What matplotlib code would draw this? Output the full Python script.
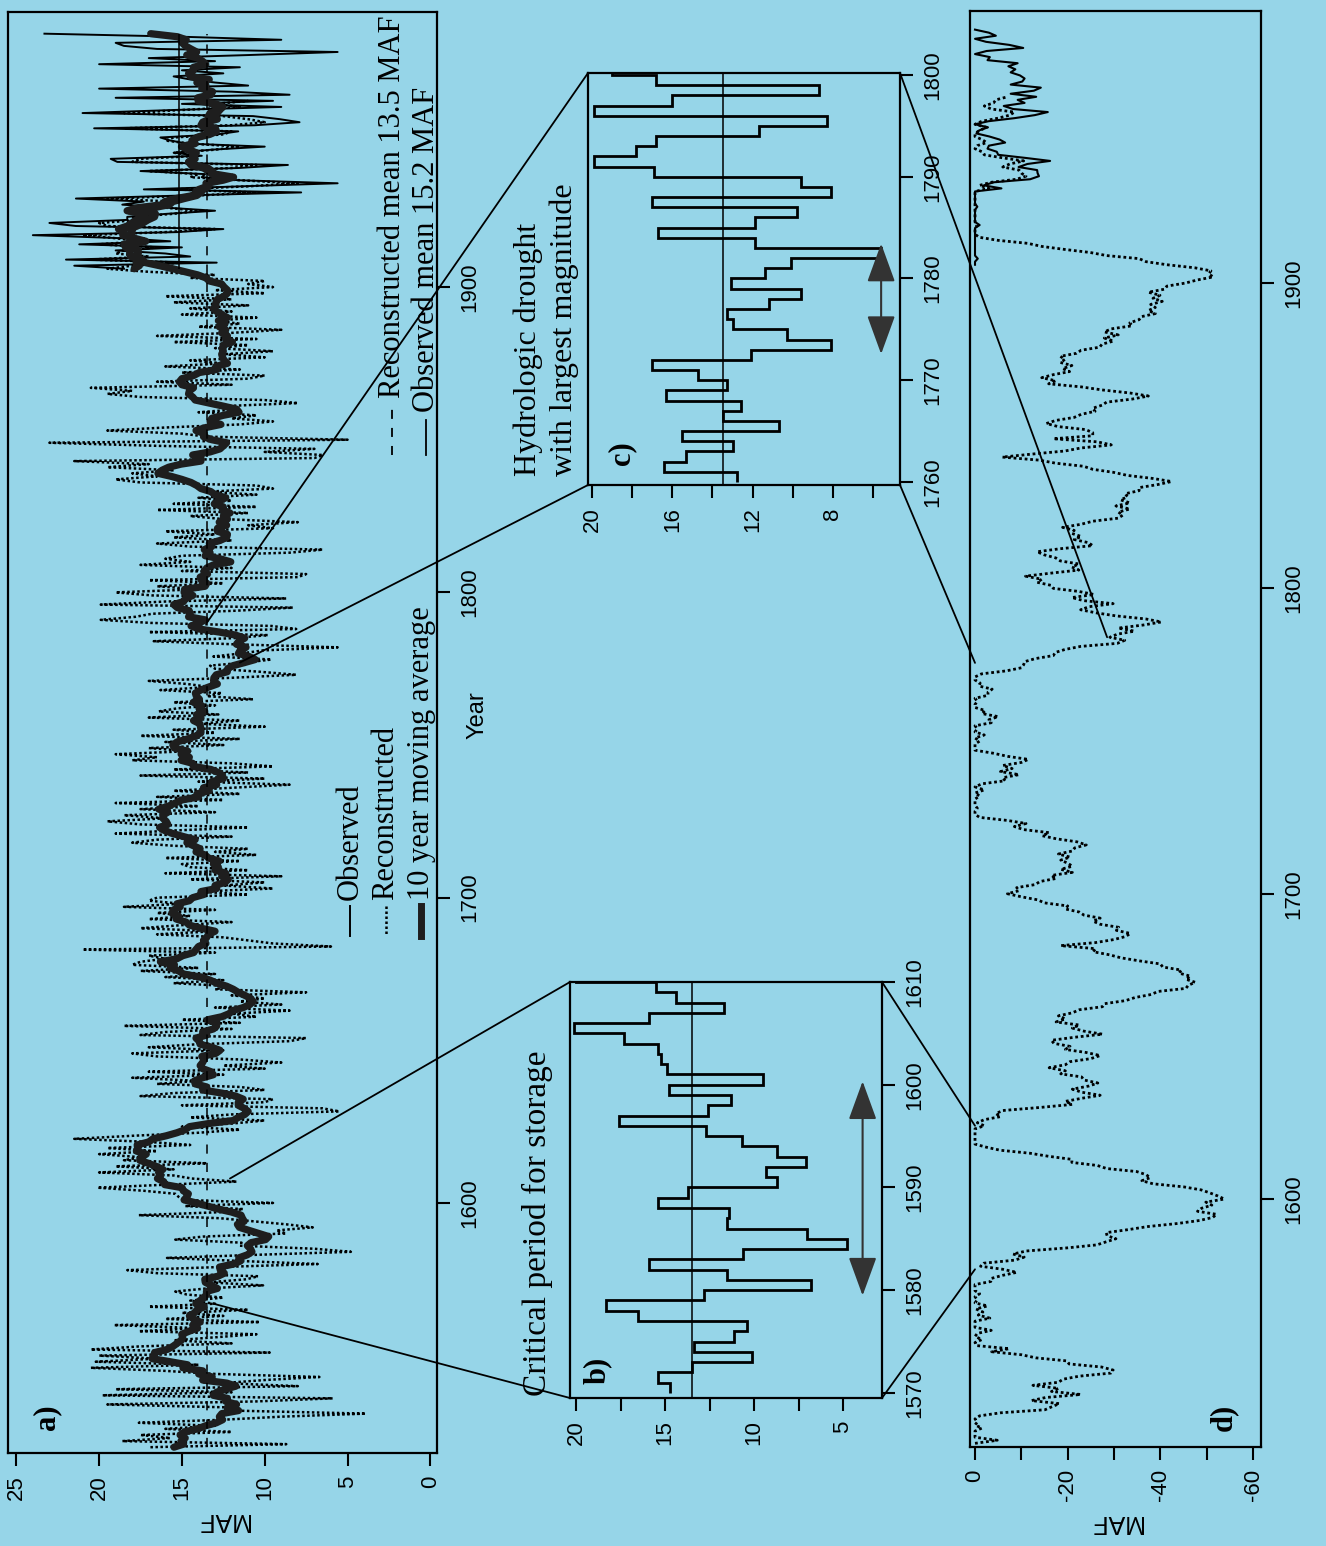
import numpy as np
import pandas as pd
import matplotlib
matplotlib.use("Agg")
import matplotlib.pyplot as plt
from matplotlib.patches import ConnectionPatch

BG = "#96d5e8"
SANS = "Liberation Sans"
SERIF = "Liberation Serif"

# ---- data (MAF) ----
rec_start = 1520
recon_flow = [
    16.9, 8.7, 18.6, 15.7, 17.5, 12.0, 16.0, 13.0, 17.6, 12.5,   # 1520s
    9.0, 3.9, 12.0, 11.9, 19.5, 10.5, 5.9, 19.8, 12.0, 19.0,
    8.0, 12.5, 10.0, 6.7, 13.0, 16.0, 20.5, 14.0, 20.2, 16.5,
    20.0, 9.7, 20.5, 17.6, 12.0, 15.5, 13.0, 10.5, 17.6, 14.0,
    19.1, 10.3, 16.0, 12.5, 15.0, 11.0, 17.0, 13.0, 14.5, 12.5,
    14.7, 15.4, 13.5, 10.1, 13.4, 11.1, 10.4, 16.5, 18.3, 12.8,  # 1570s
    6.8, 11.5, 15.9, 10.6, 4.8, 7.0, 11.5, 11.4, 15.4, 13.7,
    8.7, 9.3, 7.1, 8.7, 10.7, 12.7, 17.6, 12.6, 11.3, 14.8,
    9.5, 14.9, 15.2, 15.4, 17.3, 20.1, 15.9, 11.7, 14.4, 15.5,   # 1600s
    20.0, 15.5, 19.0, 13.5, 18.5, 17.5, 20.0, 16.5, 19.5, 14.5,
    17.0, 21.5, 18.0, 14.0, 11.5, 15.0, 12.0, 10.0, 14.5, 12.0,
    5.5, 6.5, 15.0, 10.0, 9.5, 17.5, 15.5, 10.0, 11.5, 16.5,
    14.0, 18.0, 12.5, 17.0, 10.0, 12.5, 9.0, 11.5, 16.5, 18.0,
    12.5, 17.0, 14.0, 8.5, 7.5, 17.5, 16.0, 12.0, 18.5, 11.5,
    15.0, 10.5, 12.0, 8.5, 13.0, 9.0, 11.5, 10.0, 12.0, 7.5,
    13.0, 12.0, 15.5, 12.5, 16.0, 13.0, 17.5, 14.0, 18.0, 17.5,
    16.0, 17.0, 13.0, 21.0, 6.0, 9.5, 11.0, 12.5, 16.5, 13.0,
    17.5, 15.0, 12.0, 17.0, 14.5, 16.5, 13.0, 18.5, 15.0, 17.0,
    16.5, 11.0, 14.0, 9.5, 12.5, 10.0, 14.5, 9.0, 16.0, 11.0,   # 1700s
    14.5, 15.0, 11.5, 16.0, 10.5, 13.0, 11.0, 15.5, 18.0, 16.5,
    12.0, 19.0, 15.5, 11.0, 17.5, 19.5, 16.0, 18.5, 13.0, 17.5,
    14.0, 19.0, 12.5, 16.5, 11.5, 15.5, 12.0, 8.5, 14.0, 10.0,
    17.5, 11.0, 15.5, 9.5, 12.0, 18.0, 16.5, 19.0, 14.5, 17.0,
    12.5, 16.0, 11.5, 17.5, 13.0, 15.5, 10.0, 14.0, 11.5, 17.0,
    12.8, 16.4, 15.3, 13.0, 15.5, 10.7, 13.5, 12.6, 16.3, 13.3,  # 1760s
    14.7, 17.0, 12.1, 8.1, 10.3, 13.0, 13.3, 11.2, 9.6, 13.1,
    11.4, 10.1, 5.6, 11.9, 16.7, 11.9, 9.8, 17.0, 8.1, 9.6,
    16.9, 19.9, 17.8, 16.8, 11.7, 8.3, 19.9, 16.0, 8.7, 16.8,
    19.0, 14.0, 16.5, 12.5, 17.0, 8.0, 7.5, 15.0, 12.0, 17.5,   # 1800s
    14.5, 16.0, 15.0, 8.5, 6.5, 14.5, 16.5, 12.0, 15.5, 13.0,
    16.0, 9.5, 11.0, 8.0, 12.5, 14.5, 11.0, 16.5, 10.5, 15.5,
    12.0, 14.0, 10.5, 13.5, 9.5, 10.5, 17.5, 19.0, 16.5, 18.0,
    15.5, 19.5, 17.0, 21.5, 7.0, 6.5, 10.0, 7.0, 16.5, 23.0,
    5.0, 13.5, 15.0, 19.5, 16.0, 11.5, 9.5, 12.0, 10.5, 14.0,
    11.5, 12.5, 8.0, 10.0, 17.5, 19.5, 18.0, 20.5, 12.0, 16.5,
    11.0, 10.0, 15.0, 11.5, 16.0, 12.5, 14.5, 10.0, 12.5, 9.5,
    13.0, 11.0, 15.5, 10.5, 16.5, 12.0, 9.0, 14.0, 11.5, 13.0,
    10.5, 15.0, 12.0, 14.5, 11.0, 15.5, 12.0, 16.0, 10.0, 13.0,
    9.5, 11.0, 10.0, 14.5, 13.0, 17.0, 19.5, 18.0, 15.0, 20.5,  # 1900s
    17.0, 19.0, 18.5, 16.5, 20.0, 17.5, 19.0, 21.0, 16.0, 13.0,
    19.5, 20.0, 17.5, 18.0, 15.5, 14.0, 16.0, 17.0, 15.5, 19.5,
    14.0, 10.5, 15.5, 11.0, 8.0, 11.5, 14.5, 14.0, 17.0, 12.0,
    10.5, 18.0, 17.5, 14.0, 15.5, 13.0, 11.5, 14.5, 16.0, 15.5,
    12.5, 12.0, 18.5, 12.0, 10.0, 11.0, 12.5, 18.5, 15.0, 11.5,
    13.0, 11.0,
]

obs_start = 1906
obs_flow = [
    18.5, 21.5, 12.9, 22.0,
    14.5, 16.0, 19.0, 15.0, 21.2, 15.7, 18.6, 24.0, 15.3, 12.5,
    21.4, 23.0, 18.3, 18.3, 15.9, 13.0, 15.9, 18.6, 17.3, 21.4,
    14.9, 7.8, 17.3, 11.4, 5.6, 11.6, 13.8, 13.6, 17.5, 11.6,
    8.6, 18.9, 19.3, 13.8, 15.5, 13.2, 10.0, 14.7, 15.7, 16.3,
    12.9, 11.6, 20.3, 10.6, 7.9, 9.1, 10.7, 21.0, 15.5, 9.0,
    15.0, 9.5, 19.0, 8.5, 12.0, 20.0, 11.0, 13.0, 14.5, 15.5,
    12.5, 15.0, 11.5, 20.0, 13.0, 17.0, 11.0, 5.6, 16.5, 18.5,
    19.0, 9.0, 15.0, 23.3,
]

REC_MEAN = 13.5
OBS_MEAN = 15.2
inset_b = (1570, 1610)
inset_c = (1760, 1800)
critical_period = (1579.2, 1600.6)
largest_drought = (1772.3, 1783.7)

rec_years = np.arange(rec_start, rec_start + len(recon_flow))
obs_years = np.arange(obs_start, obs_start + len(obs_flow))


def moving_avg(vals):
    return pd.Series(vals).rolling(10, center=True, min_periods=4).mean().values


def storage_deficit(vals, demand):
    out, d = [], 0.0
    for v in vals:
        d = min(0.0, d + v - demand)
        out.append(d)
    return np.array(out)


rec_ma = moving_avg(recon_flow)
obs_ma = moving_avg(obs_flow)
rec_def = storage_deficit(recon_flow, REC_MEAN)
obs_def = storage_deficit(obs_flow, REC_MEAN)

# ---- figure ----
W, H = 1326, 1546
fig = plt.figure(figsize=(W / 100, H / 100), dpi=100, facecolor=BG)


def panel(l, t, r, b):
    ax = fig.add_axes([l / W, 1 - b / H, (r - l) / W, (b - t) / H])
    ax.set_facecolor("none")
    for s in ax.spines.values():
        s.set_linewidth(1.6)
    return ax


def style(ax, xt, xl, yt, fs=16):
    ax.set_xticks(xt)
    ax.set_xticklabels(xl, rotation=90, fontsize=fs, family=SANS)
    ax.yaxis.tick_right()
    ax.set_yticks(yt)
    ax.set_yticklabels([str(y) for y in yt], rotation=90, fontsize=fs, family=SANS, va="center")
    ax.tick_params(direction="out", length=9, width=1.5, pad=7)


# a) annual flows
ax_a = panel(8, 12, 437, 1453)
ax_a.plot(recon_flow, rec_years, color="k", ls=(0, (1, 1)), lw=1.8)
ax_a.plot(obs_flow, obs_years, color="k", lw=1.4)
ax_a.plot(rec_ma, rec_years, color="#1e1e1e", lw=5.2, solid_capstyle="round")
ax_a.plot(obs_ma, obs_years, color="#1e1e1e", lw=5.2, solid_capstyle="round")
ax_a.vlines(REC_MEAN, rec_years[0], obs_years[-1], color="k", lw=1.1, ls=(0, (6, 6)))
ax_a.vlines(OBS_MEAN, obs_years[0], obs_years[-1], color="k", lw=1.1)
ax_a.set_xlim(25.5, -0.4)
ax_a.set_ylim(1518.1, 1990.1)
style(ax_a, [0, 5, 10, 15, 20, 25], ["0", "5", "10", "15", "20", "25"], [1600, 1700, 1800, 1900])
ax_a.set_xlabel("MAF", rotation=180, fontsize=18, family=SANS, labelpad=6)

# b) critical period inset
ax_b = panel(570, 982, 882, 1398)
i0, i1 = inset_b[0] - rec_start, inset_b[1] - rec_start + 1
ax_b.stairs(recon_flow[i0:i1], np.arange(inset_b[0], inset_b[1] + 2), orientation="horizontal",
            baseline=None, color="k", lw=2)
ax_b.axvline(REC_MEAN, color="k", lw=1.1)
ax_b.annotate("", xy=(3.9, critical_period[0]), xytext=(3.9, critical_period[1]),
              arrowprops=dict(arrowstyle="<|-|>,head_length=1.1,head_width=0.4", mutation_scale=22,
                              color="#333333", lw=1.5))
ax_b.set_xlim(20.34, 2.81)
ax_b.set_ylim(1569.5, 1610.0)
style(ax_b, [20, 17.5, 15, 12.5, 10, 7.5, 5], ["20", "", "15", "", "10", "", "5"],
      [1570, 1580, 1590, 1600, 1610])

# c) largest drought inset
ax_c = panel(588, 73, 900, 485)
i0, i1 = inset_c[0] - rec_start, inset_c[1] - rec_start + 1
ax_c.stairs(recon_flow[i0:i1], np.arange(inset_c[0], inset_c[1] + 2), orientation="horizontal",
            baseline=None, color="k", lw=2)
ax_c.axvline(REC_MEAN, color="k", lw=1.1)
ax_c.annotate("", xy=(5.6, largest_drought[0]), xytext=(5.6, largest_drought[1]),
              arrowprops=dict(arrowstyle="<|-|>,head_length=1.1,head_width=0.4", mutation_scale=22,
                              color="#333333", lw=1.5))
ax_c.set_xlim(20.2, 4.66)
ax_c.set_ylim(1759.7, 1800.2)
style(ax_c, [20, 18, 16, 14, 12, 10, 8, 6], ["20", "", "16", "", "12", "", "8", ""],
      [1760, 1770, 1780, 1790, 1800])

# d) storage deficit
ax_d = panel(970, 11, 1261, 1447)
ax_d.plot(rec_def, rec_years, color="k", ls=(0, (1, 1)), lw=2.0)
ax_d.plot(obs_def, obs_years, color="k", lw=1.5)
ax_d.set_xlim(1.08, -61.7)
ax_d.set_ylim(1518.8, 1989.1)
style(ax_d, [0, -10, -20, -30, -40, -50, -60], ["0", "", "-20", "", "-40", "", "-60"],
      [1600, 1700, 1800, 1900])
ax_d.set_xlabel("MAF", rotation=180, fontsize=18, family=SANS, labelpad=6)

# zoom connector lines
links = [
    ((13.1, 1567), ax_a.transData, (0, 0), ax_b.transAxes),
    ((12.1, 1608), ax_a.transData, (0, 1), ax_b.transAxes),
    ((REC_MEAN, 1790), ax_a.transData, (0, 1), ax_c.transAxes),
    ((11.5, 1777), ax_a.transData, (0, 0), ax_c.transAxes),
    ((1, 1), ax_b.transAxes, (0, 1624), ax_d.transData),
    ((1, 0), ax_b.transAxes, (0, 1577), ax_d.transData),
    ((1, 1), ax_c.transAxes, (-28.5, 1784), ax_d.transData),
    ((1, 0), ax_c.transAxes, (0, 1775.6), ax_d.transData),
]
for xyA, tA, xyB, tB in links:
    fig.add_artist(ConnectionPatch(xyA=xyA, coordsA=tA, xyB=xyB, coordsB=tB, color="k", lw=1.3))

# overlay in pixel coordinates for legends and labels
ov = fig.add_axes([0, 0, 1, 1], zorder=5)
ov.set_xlim(0, W)
ov.set_ylim(H, 0)
ov.axis("off")

leg_kw = dict(rotation=90, ha="center", va="bottom", family=SERIF, fontsize=22)
ov.plot([350, 350], [906, 936], color="k", lw=1.4)
ov.text(350, 900, "Observed", **leg_kw)
ov.plot([386, 386], [906, 936], color="k", ls=(0, (1, 1)), lw=1.8)
ov.text(386, 900, "Reconstructed", **leg_kw)
ov.plot([421, 421], [906, 936], color="#1e1e1e", lw=5)
ov.text(421, 900, "10 year moving average", **leg_kw)

ov.plot([392, 392], [455, 404], color="k", lw=1.3, ls=(0, (5, 5)))
ov.text(392, 398, f"Reconstructed mean {REC_MEAN} MAF", **leg_kw)
ov.plot([426, 426], [455, 420], color="k", lw=1.3)
ov.text(426, 412, f"Observed mean {OBS_MEAN} MAF", **leg_kw)

ov.text(478, 715, "Year", rotation=90, ha="center", va="center", family=SANS, fontsize=17)

lab_kw = dict(rotation=90, ha="center", va="center", family=SERIF, fontsize=22, fontweight="bold")
ov.text(47, 1417, "a)", **lab_kw)
ov.text(597, 1370, "b)", **lab_kw)
ov.text(622, 453, "c)", **lab_kw)
ov.text(1223, 1417, "d)", **lab_kw)

ov.text(537, 1396, "Critical period for storage", **dict(leg_kw, fontsize=24))
ov.text(528, 476, "Hydrologic drought", **dict(leg_kw, fontsize=23))
ov.text(564, 476, "with largest magnitude", **dict(leg_kw, fontsize=23))

fig.savefig("out.png", dpi=100, facecolor=BG)
